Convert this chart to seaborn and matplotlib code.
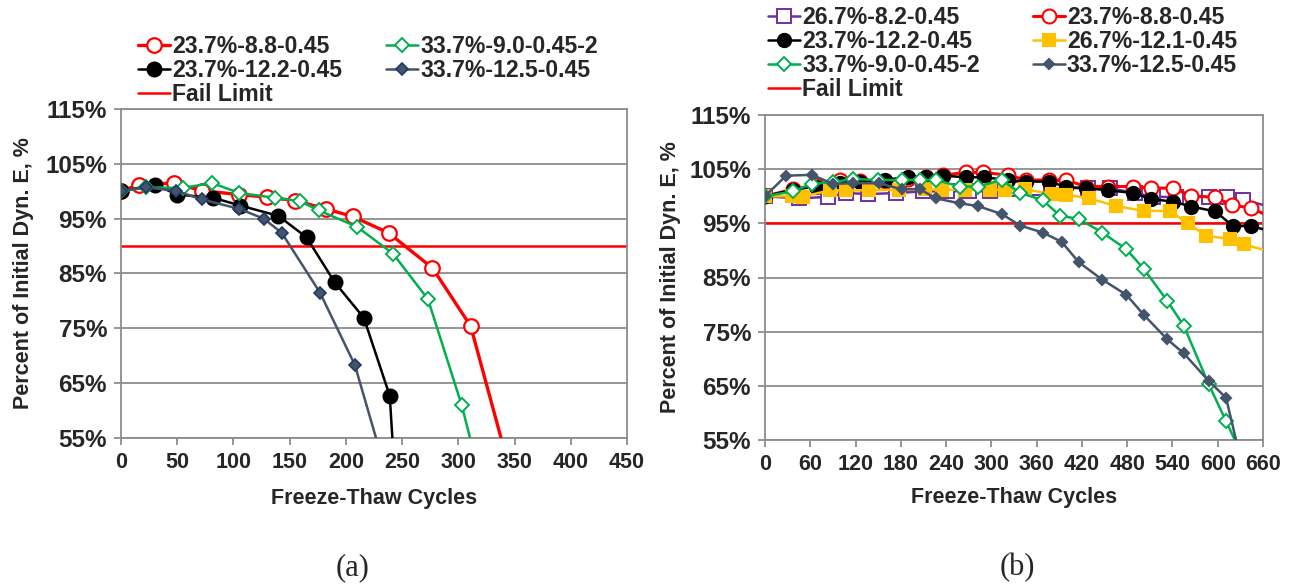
import matplotlib
matplotlib.use("Agg")
import matplotlib.pyplot as plt
from matplotlib.ticker import FuncFormatter, MultipleLocator
import seaborn as sns

sns.set_style("ticks")
plt.rcParams["font.family"] = ["Liberation Sans", "DejaVu Sans"]
plt.rcParams["font.weight"] = "bold"

# ---------------- panel (a) data ----------------
a_red_x = [0, 16, 47, 72, 105, 130, 155, 182, 206, 238, 277, 311, 345]
a_red_y = [100, 101.2, 101.5, 100.1, 99.4, 98.9, 98.3, 96.8, 95.4, 92.4, 86.0, 75.4, 49.7]

a_black_x = [0, 30, 50, 82, 106, 140, 165, 190, 216, 239, 245]
a_black_y = [100, 101.2, 99.4, 98.8, 97.4, 95.5, 91.6, 83.4, 76.9, 62.7, 43.0]

a_green_x = [0, 22, 55, 81, 105, 137, 159, 176, 210, 242, 273, 303, 316]
a_green_y = [100, 100.7, 100.6, 101.5, 99.7, 98.8, 98.2, 96.5, 93.5, 88.6, 80.3, 61.0, 50.5]

a_navy_x = [0, 22, 49, 72, 105, 127, 143, 177, 208, 236]
a_navy_y = [100, 100.7, 100.1, 98.5, 96.8, 95.0, 92.4, 81.5, 68.3, 48.5]

a_fail_limit = 90

# ---------------- panel (b) data ----------------
b_purple_x = [0, 45, 84, 108, 137, 174, 210, 241, 270, 298, 330, 360, 390, 428, 457,
              490, 514, 545, 589, 612, 634, 672]
b_purple_y = [100, 99.6, 99.9, 100.6, 100.4, 100.6, 100.9, 100.9, 101.0, 100.9, 101.3,
              101.5, 101.5, 101.5, 101.5, 100.6, 99.95, 99.8, 99.9, 99.9, 99.3, 98.0]

b_red_x = [0, 37, 68, 99, 126, 159, 190, 213, 236, 267, 289, 322, 346, 377, 399, 425,
           455, 488, 511, 541, 565, 596, 619, 644, 672]
b_red_y = [100, 101.3, 102.0, 103.0, 102.9, 102.8, 103.2, 103.5, 103.9, 104.4, 104.4,
           103.9, 103.0, 103.0, 103.0, 101.8, 101.8, 101.8, 101.5, 101.5, 100.1, 99.8,
           98.4, 97.8, 96.1]

b_black_x = [0, 37, 68, 99, 126, 159, 190, 213, 236, 267, 290, 322, 346, 377, 399, 425,
             455, 488, 511, 541, 565, 597, 620, 644, 672]
b_black_y = [100, 101.2, 101.8, 102.4, 102.7, 103.0, 103.6, 103.6, 103.8, 103.5, 103.5,
             103.0, 102.7, 102.7, 101.7, 101.5, 101.1, 100.6, 99.5, 99.0, 98.1, 97.2,
             94.5, 94.5, 93.5]

b_yellow_x = [0, 36, 51, 86, 108, 138, 177, 212, 234, 265, 298, 318, 344, 380, 399, 430,
              465, 502, 537, 560, 585, 616, 635, 682]
b_yellow_y = [100, 100, 99.95, 101.1, 101.1, 101.1, 101.2, 101.3, 101.2, 101.2, 101.2,
              101.2, 101.3, 100.4, 100.3, 99.6, 98.2, 97.3, 97.3, 95.0, 92.7, 92.1, 91.1,
              89.3]

b_green_x = [0, 37, 62, 90, 117, 150, 181, 205, 227, 258, 282, 314, 338, 368, 391, 416,
             447, 479, 502, 533, 555, 588, 611, 636]
b_green_y = [100, 100.9, 102.3, 102.6, 103.2, 103.0, 103.0, 103.0, 103.0, 101.8, 101.8,
             103.0, 100.6, 99.3, 96.4, 95.8, 93.3, 90.2, 86.6, 80.7, 76.1, 65.3, 58.5, 51.0]

b_slate_x = [0, 28, 62, 90, 117, 151, 181, 205, 227, 258, 282, 314, 338, 368, 393, 416,
             447, 479, 502, 533, 555, 588, 611, 632]
b_slate_y = [100, 103.8, 103.95, 102.3, 102.4, 102.4, 101.3, 101.3, 99.6, 98.7, 98.2,
             96.7, 94.6, 93.3, 91.6, 87.8, 84.6, 81.8, 78.1, 73.6, 71.0, 65.9, 62.8, 50.5]

b_fail_limit = 95

y_ticks = [55, 65, 75, 85, 95, 105, 115]

RED = "#FF0000"
GREEN = "#00B050"
NAVY_FILL = "#44546A"
NAVY_EDGE = "#203864"
PURPLE = "#7030A0"
GOLD = "#FFC000"
GRID = "#8C8C8C"

FS = 15.5
FS_Y = 17.5
FS_LEG = 16.6

fig = plt.figure(figsize=(12.93, 5.84), dpi=100)
ax_a = fig.add_axes([121 / 1293, 1 - 438 / 584, (627 - 121) / 1293, (438 - 109) / 584])
ax_b = fig.add_axes([765 / 1293, 1 - 440 / 584, (1263 - 765) / 1293, (440 - 115) / 584])


def series(ax, x, y, label, color, marker, ms, lw, mfc, mec=None, mew=1.5, z=3):
    sns.lineplot(x=x, y=y, ax=ax, label=label, color=color, marker=marker,
                 markersize=ms, linewidth=lw, markerfacecolor=mfc,
                 markeredgecolor=mec if mec else color, markeredgewidth=mew,
                 sort=False, zorder=z, clip_on=True)


def style_axes(ax, xmax, xstep, xlabel_pad, ylabel_pad):
    ax.set_ylim(55, 115)
    ax.set_xlim(0, xmax)
    ax.set_yticks(y_ticks)
    ax.xaxis.set_major_locator(MultipleLocator(xstep))
    ax.yaxis.set_major_formatter(FuncFormatter(lambda v, p: f"{v:.0f}%"))
    ax.grid(axis="y", color=GRID, linewidth=1.3, zorder=0)
    ax.set_axisbelow(True)
    for s in ax.spines.values():
        s.set_color(GRID)
        s.set_linewidth(1.3)
    ax.tick_params(axis="both", direction="out", length=5, width=1.3, color=GRID, pad=5)
    ax.tick_params(axis="x", labelsize=FS)
    ax.tick_params(axis="y", labelsize=FS_Y)
    for t in ax.get_xticklabels() + ax.get_yticklabels():
        t.set_fontweight("bold")
    ax.set_xlabel("Freeze-Thaw Cycles", fontsize=FS, fontweight="bold", labelpad=xlabel_pad)
    ax.set_ylabel("Percent of Initial Dyn. E, %", fontsize=FS, fontweight="bold",
                  labelpad=ylabel_pad)


legend_kw = dict(ncol=2, frameon=False, loc="upper left", borderpad=0, borderaxespad=0,
                 labelspacing=0.04, handlelength=1.4, handletextpad=0.08,
                 prop={"weight": "bold", "size": FS_LEG})

# ---------- panel (a) ----------
series(ax_a, a_red_x, a_red_y, "23.7%-8.8-0.45", RED, "o", 10.5, 2.4, "white", mew=1.6)
series(ax_a, a_black_x, a_black_y, "23.7%-12.2-0.45", "black", "o", 10, 1.8, "black")
series(ax_a, a_green_x, a_green_y, "33.7%-9.0-0.45-2", GREEN, "D", 7, 1.8, "white", mew=1.4)
series(ax_a, a_navy_x, a_navy_y, "33.7%-12.5-0.45", NAVY_FILL, "D", 6.5, 1.8, NAVY_FILL,
       mec=NAVY_EDGE, mew=1.2)
ax_a.axhline(a_fail_limit, color=RED, linewidth=1.8, zorder=2, label="Fail Limit")
style_axes(ax_a, 450, 50, 11, 8)

h, l = ax_a.get_legend_handles_labels()
order = ["23.7%-8.8-0.45", "23.7%-12.2-0.45", "Fail Limit", "33.7%-9.0-0.45-2", "33.7%-12.5-0.45"]
hm = dict(zip(l, h))
ax_a.legend([hm[k] for k in order], order, bbox_to_anchor=(138 / 1293, 1 - 35 / 584),
            bbox_transform=fig.transFigure, columnspacing=1.9, **legend_kw)

# ---------- panel (b) ----------
series(ax_b, b_purple_x, b_purple_y, "26.7%-8.2-0.45", PURPLE, "s", 10, 1.8, "white", mew=1.4)
series(ax_b, b_red_x, b_red_y, "23.7%-8.8-0.45", RED, "o", 10, 2.2, "white", mew=1.5)
series(ax_b, b_black_x, b_black_y, "23.7%-12.2-0.45", "black", "o", 9.5, 1.8, "black")
series(ax_b, b_yellow_x, b_yellow_y, "26.7%-12.1-0.45", GOLD, "s", 9, 1.8, GOLD)
series(ax_b, b_green_x, b_green_y, "33.7%-9.0-0.45-2", GREEN, "D", 7, 1.8, "white", mew=1.4)
series(ax_b, b_slate_x, b_slate_y, "33.7%-12.5-0.45", NAVY_FILL, "D", 5.5, 1.8, NAVY_FILL)
ax_b.axhline(b_fail_limit, color=RED, linewidth=1.8, zorder=2, label="Fail Limit")
style_axes(ax_b, 660, 60, 9, 6)

h, l = ax_b.get_legend_handles_labels()
order_b = ["26.7%-8.2-0.45", "23.7%-12.2-0.45", "33.7%-9.0-0.45-2", "Fail Limit",
           "23.7%-8.8-0.45", "26.7%-12.1-0.45", "33.7%-12.5-0.45"]
hm = dict(zip(l, h))
ax_b.legend([hm[k] for k in order_b], order_b, bbox_to_anchor=(768 / 1293, 1 - 6 / 584),
            bbox_transform=fig.transFigure, columnspacing=2.3, **legend_kw)

fig.text(353 / 1293, 1 - 568 / 584, "(a)", ha="center", va="center",
         fontsize=22, family="Liberation Serif", fontweight="normal")
fig.text(1017 / 1293, 1 - 568 / 584, "(b)", ha="center", va="center",
         fontsize=22, family="Liberation Serif", fontweight="normal")

fig.savefig("out.png", dpi=100, facecolor="white")
